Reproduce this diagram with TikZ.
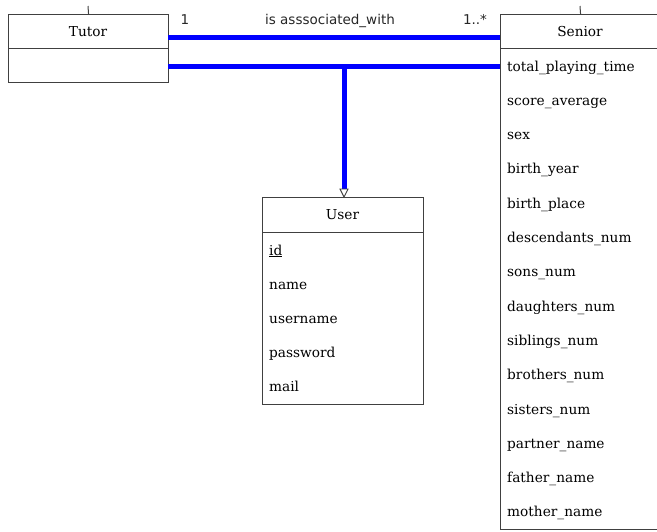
\documentclass[tikz,border=0pt]{standalone}
\usepackage{fontspec}
\setmainfont{DejaVu Serif}
\newfontfamily\assocfont{DejaVu Sans}
\usetikzlibrary{arrows.meta}
\definecolor{boxline}{HTML}{404040}
\definecolor{assoc}{HTML}{0000FF}
\begin{document}
\begin{tikzpicture}[x=1pt,y=-1pt,
  classbox/.style={draw=boxline,line width=1.1pt,fill=white,inner sep=0pt,anchor=north west},
  divider/.style={draw=boxline,line width=0.9pt},
  header/.style={font=\fontsize{13.7}{16}\selectfont,anchor=center,inner sep=0pt,text height=10pt,text depth=0pt},
  attr/.style={font=\fontsize{13.7}{16}\selectfont,anchor=west,inner sep=0pt,text height=10pt,text depth=0pt},
  label/.style={font=\assocfont\fontsize{13.5}{16}\selectfont,anchor=center,inner sep=0pt,text=black!85,text height=10pt,text depth=0pt},
  link/.style={draw=assoc,line width=5pt},
  tick/.style={draw=boxline,line width=1pt}]
\useasboundingbox (0,0) rectangle (657,531);

% Tutor class
\node[classbox,minimum width=160pt,minimum height=68pt] (tutor) at (8,14) {};
\draw[divider] (8,48) -- (168,48);
\node[header] (tutorname) at (88,31) {Tutor};
\coordinate (tutortick) at (88,6);
\draw[tick] (tutor.north) -- (tutortick);

% Senior class
\node[classbox,minimum width=160pt,minimum height=515pt] (senior) at (500,14) {};
\draw[divider] (500,48) -- (660,48);
\node[header] (seniorname) at (580,31) {Senior};
\coordinate (seniortick) at (580,6);
\draw[tick] (senior.north) -- (seniortick);
\foreach \t [count=\i from 0] in {total\_playing\_time,score\_average,sex,birth\_year,birth\_place,descendants\_num,sons\_num,daughters\_num,siblings\_num,brothers\_num,sisters\_num,partner\_name,father\_name,mother\_name}
  \node[attr] (s\i) at (507,66+34.3*\i) {\t};

% User class
\node[classbox,minimum width=161pt,minimum height=207pt] (user) at (262,197) {};
\draw[divider] (262,232) -- (423,232);
\node[header] (username) at (342.5,214) {User};
\node[attr] (uid) at (269,250) {\underline{id}};
\node[attr] (uname) at (269,284) {name};
\node[attr] (uuser) at (269,318) {username};
\node[attr] (upass) at (269,352) {password};
\node[attr] (umail) at (269,386) {mail};

% association Tutor -- Senior
\coordinate (ta) at (168,37);
\coordinate (sa) at (500,37);
\draw[link] (ta) -- (sa);
\node[label] (m1) at (185,19) {1};
\node[label] (mname) at (330,19) {is asssociated\_with};
\node[label] (m2) at (475,19) {1..*};

% association class link and generalisation to User
\coordinate (tb) at (168,66);
\coordinate (sb) at (500,66);
\draw[link] (tb) -- (sb);
\coordinate (jn) at (344,66);
\draw[link,shorten >=6pt] (jn) -- (user.north -| jn);
\draw[boxline,line width=0.9pt,fill=white] (user.north -| jn) -- ++(-4,-8) -- ++(8,0) -- cycle;
\end{tikzpicture}
\end{document}
